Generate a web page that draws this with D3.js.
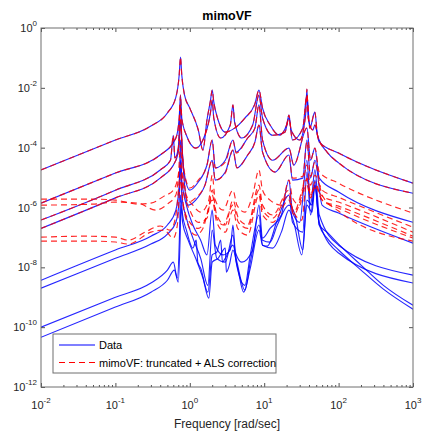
<!DOCTYPE html>
<html>
<head>
<meta charset="utf-8">
<script src="https://cdn.jsdelivr.net/npm/d3@7"></script>
<style>
  body { margin: 0; background: #fff; }
  text { font-family: "Liberation Sans", Arial, sans-serif; fill: #262626; }
</style>
</head>
<body>
<script>
// axis ticks
const freqTicks = [1e-2, 1e-1, 1e0, 1e1, 1e2, 1e3];
const magTicks = [1e-12, 1e-10, 1e-8, 1e-6, 1e-4, 1e-2, 1e0];

// measured responses, [frequency rad/s, magnitude]
const data1 = [[0.01,1.8e-5],[0.1,1.8e-4],[0.3,5.3e-4],[0.5,1.44e-3],[0.65,4.9e-3],[0.72,2.7e-2],[0.75,0.107],[0.78,2.7e-2],[0.85,5.7e-3],[1.0,2.1e-3],[1.3,3.9e-4],[1.5,8.3e-5],[1.7,8.4e-4],[1.9,3.9e-3],[2.0,8.4e-3],[2.1,3.4e-3],[2.4,8.4e-4],[3.0,3.3e-4],[4.0,4.5e-4],[5.5,9.8e-4],[7.5,2.9e-3],[8.5,8.4e-3],[9.5,2.1e-3],[12,5.7e-4],[16,2.6e-4],[20,5.7e-4],[21.5,1.23e-3],[23,3.9e-4],[30,1.8e-4],[36,1.23e-3],[37.5,9.1e-3],[39,9.8e-4],[45,3.9e-4],[48,5.7e-4],[55,1.54e-4],[100,6.6e-5],[1000,6.5e-6]];
const data2 = [[0.01,1.4e-6],[0.1,1.42e-5],[0.4,5.7e-5],[0.65,2.1e-4],[0.72,9.8e-4],[0.75,5.7e-3],[0.78,9.8e-4],[0.9,2.6e-4],[1.2,9.7e-5],[1.5,1.8e-4],[1.9,1.55e-3],[2.0,3.9e-3],[2.1,9.8e-4],[2.6,2.1e-4],[3.5,5.7e-4],[3.8,2.7e-3],[4.0,7.2e-4],[5,2.1e-4],[7,5.7e-4],[8.5,5.7e-3],[9.5,9.8e-4],[13,2.6e-4],[19,3.3e-4],[21.5,9.8e-4],[24,1.8e-4],[33,4.5e-4],[37.5,5.7e-3],[41,4.5e-4],[48,1.55e-3],[52,2.6e-4],[70,7.1e-5],[100,3.1e-5],[1000,3.0e-6]];
const data3 = [[0.01,3.8e-7],[0.1,3.8e-6],[0.4,1.8e-5],[0.55,3.8e-5],[0.6,2.6e-4],[0.63,4.5e-5],[0.7,9.7e-5],[0.75,2.7e-3],[0.78,1.8e-4],[0.85,1.21e-5],[1.0,3.8e-6],[1.3,7.1e-6],[1.7,2.6e-5],[2.0,1.8e-4],[2.2,2.1e-5],[3,3.8e-5],[3.8,1.8e-4],[4.2,7.1e-5],[6,2.1e-4],[7.5,4.5e-4],[8.5,2.7e-3],[9.5,1.8e-4],[13,3.8e-5],[21.5,9.7e-5],[25,2.6e-5],[37.5,4.5e-4],[42,3.8e-5],[48,9.7e-5],[55,9.6e-6],[100,3.3e-6],[1000,3.2e-7]];
const data4 = [[0.01,2.0e-7],[0.1,2.1e-6],[0.4,9.6e-6],[0.65,3.8e-5],[0.72,1.22e-4],[0.75,8.4e-4],[0.79,8.3e-5],[0.85,5.6e-6],[0.95,1.2e-6],[1.2,1.77e-6],[1.6,5.6e-6],[2.0,3.8e-5],[2.2,8.2e-6],[3,1.53e-5],[3.8,8.3e-5],[4.3,2.1e-5],[6,5.7e-5],[7.5,1.54e-4],[8.5,5.7e-4],[9.5,7.1e-5],[14,1.53e-5],[21.5,5.7e-5],[24,8.2e-6],[33,9.6e-6],[37.5,1.8e-4],[42,9.6e-6],[48,3.8e-5],[60,1.2e-6],[100,6.5e-7],[1000,6.4e-8]];
const data5 = [[0.01,3.7e-9],[0.1,3.8e-8],[0.3,1.1e-7],[0.5,2.6e-7],[0.65,8.2e-7],[0.72,5.6e-6],[0.75,1.8e-4],[0.78,8.2e-6],[0.9,1.2e-6],[1.1,2.6e-7],[1.4,8.1e-8],[1.7,2.6e-8],[2.0,8.2e-7],[2.2,5.5e-8],[2.8,2.6e-8],[3.5,3.8e-8],[3.8,2.6e-7],[4.1,3.2e-8],[5,1.49e-8],[7,3.8e-8],[8.5,1.2e-6],[9.5,9.5e-8],[12,2.0e-7],[17,5.6e-7],[21.5,8.2e-6],[24,7.0e-7],[30,3.2e-7],[37.5,3.8e-5],[42,1.2e-6],[48,1.8e-5],[55,5.6e-7],[100,5.5e-8],[1000,5.5e-9]];
const data6 = [[0.01,2.0e-9],[0.1,2.0e-8],[0.3,6.0e-8],[0.5,1.29e-7],[0.65,3.2e-7],[0.72,1.77e-6],[0.75,3.8e-5],[0.78,2.6e-6],[0.9,4.4e-7],[1.1,9.5e-8],[1.4,2.0e-8],[1.75,2.5e-9],[2.0,1.75e-7],[2.3,2.0e-8],[3,1.49e-8],[3.8,1.19e-7],[4.2,1.49e-8],[5.5,2.5e-9],[6.5,2.6e-8],[8.5,5.6e-7],[9.5,5.5e-8],[11,5.1e-8],[15,3.8e-7],[21.5,2.6e-6],[24,3.2e-7],[33,1.5e-7],[37.5,1.53e-5],[42,5.6e-7],[48,5.6e-6],[55,3.2e-7],[100,3.0e-8],[1000,3.0e-9]];
const data7 = [[0.01,1.0e-10],[0.1,1.0e-9],[0.3,3.0e-9],[0.5,8.1e-9],[0.6,1.49e-8],[0.68,4.4e-9],[0.73,1.75e-7],[0.75,2.6e-6],[0.8,5.6e-7],[0.9,1.75e-7],[1.1,4.4e-8],[1.22,8.1e-8],[1.28,1.49e-8],[1.4,9.4e-9],[1.75,1.48e-9],[2.0,2.6e-8],[2.3,3.2e-8],[2.6,8.1e-8],[2.75,1.49e-8],[3,2.0e-8],[3.8,5.5e-8],[4.3,1.49e-8],[5.5,1.73e-9],[6.5,1.49e-8],[8.5,2.6e-7],[9.5,8.1e-8],[12,7.0e-8],[15,2.6e-7],[21.5,1.2e-6],[26,5.6e-7],[33,3.8e-8],[37.5,1.77e-6],[44,1.2e-6],[48,8.2e-6],[55,2.6e-7],[70,1.5e-7],[100,6.0e-8],[200,1.19e-8],[400,2.5e-9],[1000,5.4e-10]];
const data8 = [[0.01,4.6e-11],[0.1,4.7e-10],[0.3,1.48e-9],[0.5,3.7e-9],[0.62,8.1e-9],[0.7,3.2e-9],[0.74,8.1e-8],[0.76,1.2e-6],[0.8,3.2e-7],[0.95,8.1e-8],[1.2,2.0e-8],[1.5,4.4e-9],[1.8,9.3e-10],[2.0,1.49e-8],[2.4,2.0e-8],[3.0,4.4e-8],[3.1,6.9e-9],[3.4,1.19e-8],[3.8,3.8e-8],[4.4,9.4e-9],[5.3,1.48e-9],[6.5,9.4e-9],[8.5,1.75e-7],[9.5,5.5e-8],[13,4.4e-8],[17,1.5e-7],[21.5,8.2e-7],[25,3.2e-7],[32,2.6e-8],[37.5,1.2e-6],[44,7.0e-7],[48,5.6e-6],[55,2.6e-7],[70,9.5e-8],[100,3.8e-8],[200,8.1e-9],[400,1.87e-9],[1000,4.0e-10]];

// mimoVF model responses, [frequency rad/s, magnitude]
const fit1 = data1;
const fit2 = data2;
const fit3 = [[0.01,3.8e-7],[0.1,3.8e-6],[0.4,1.8e-5],[0.55,3.8e-5],[0.6,2.6e-4],[0.63,4.5e-5],[0.7,9.7e-5],[0.75,2.7e-3],[0.78,1.8e-4],[0.85,1.4e-5],[1.0,4.5e-6],[1.3,8.2e-6],[1.7,2.6e-5],[2.0,1.8e-4],[2.2,2.1e-5],[3,3.3e-5],[3.8,1.8e-4],[4.2,6.6e-5],[6,2.1e-4],[7.5,4.5e-4],[8.5,2.7e-3],[9.5,1.8e-4],[13,3.8e-5],[21.5,9.7e-5],[25,2.6e-5],[37.5,4.5e-4],[42,3.8e-5],[48,9.7e-5],[55,1.53e-5],[100,6.5e-6],[1000,6.5e-7]];
const fit4 = [[0.01,2.0e-7],[0.1,2.1e-6],[0.4,9.6e-6],[0.65,3.8e-5],[0.72,1.22e-4],[0.75,8.4e-4],[0.79,8.3e-5],[0.85,6.6e-6],[0.95,1.52e-6],[1.2,2.1e-6],[1.6,5.6e-6],[2.0,3.8e-5],[2.2,8.2e-6],[3,1.42e-5],[3.8,8.3e-5],[4.3,2.1e-5],[6,5.7e-5],[7.5,1.54e-4],[8.5,5.7e-4],[9.5,7.1e-5],[14,1.53e-5],[21.5,5.7e-5],[24,9.6e-6],[33,1.1e-5],[37.5,1.54e-4],[42,1.1e-5],[48,3.3e-5],[60,2.6e-6],[100,7.6e-7],[1000,7.5e-8]];
const fit5 = [[0.01,1.9e-6],[0.05,1.9e-6],[0.1,1.77e-6],[0.2,1.3e-6],[0.3,1.4e-6],[0.45,2.4e-6],[0.6,3.8e-6],[0.7,1.21e-5],[0.75,1.22e-4],[0.8,9.6e-6],[0.9,2.6e-6],[1.1,1.2e-6],[1.4,7.0e-7],[1.8,1.77e-6],[2.0,1.21e-5],[2.2,1.77e-6],[2.8,8.2e-7],[3.8,3.8e-6],[4.3,1.2e-6],[5.5,7.0e-7],[7,2.6e-6],[8.5,1.8e-5],[9.5,3.8e-6],[12,1.77e-6],[17,1.2e-6],[21.5,8.2e-6],[24,2.1e-6],[30,1.2e-6],[37.5,2.6e-5],[42,5.6e-6],[48,1.21e-5],[60,3.8e-6],[100,2.2e-6],[1000,2.2e-7]];
const fit6 = [[0.01,1.2e-6],[0.05,1.3e-6],[0.1,1.52e-6],[0.2,1.4e-6],[0.35,8.2e-7],[0.5,1.3e-6],[0.65,2.6e-6],[0.75,2.6e-5],[0.82,3.8e-6],[1.0,8.2e-7],[1.3,3.2e-7],[1.7,4.4e-7],[2.0,3.8e-6],[2.3,5.6e-7],[3,2.6e-7],[3.8,1.77e-6],[4.5,4.4e-7],[6,2.6e-7],[8.5,5.6e-6],[9.5,1.2e-6],[13,5.6e-7],[21.5,3.8e-6],[24,8.2e-7],[32,3.8e-7],[37.5,9.6e-6],[43,2.6e-6],[48,7.1e-6],[60,1.77e-6],[100,9.5e-7],[1000,9.5e-8]];
const fit7 = [[0.01,1.02e-7],[0.04,1.1e-7],[0.1,1.02e-7],[0.15,8.1e-8],[0.25,1.5e-7],[0.4,2.4e-7],[0.55,1.75e-7],[0.65,5.6e-7],[0.75,1.21e-5],[0.8,1.77e-6],[0.95,2.6e-7],[1.2,1.19e-7],[1.5,2.0e-7],[2.0,1.77e-6],[2.3,3.2e-7],[3,1.5e-7],[3.8,8.2e-7],[4.4,2.0e-7],[6,1.19e-7],[8.5,2.6e-6],[9.5,5.6e-7],[13,3.2e-7],[21.5,1.77e-6],[25,5.6e-7],[37.5,5.6e-6],[42,2.1e-6],[48,4.5e-6],[60,2.4e-6],[100,1.52e-6],[1000,1.5e-7]];
const fit8 = [[0.01,7.5e-8],[0.05,7.5e-8],[0.1,7.0e-8],[0.15,6.0e-8],[0.3,1.5e-7],[0.45,1.75e-7],[0.6,9.5e-8],[0.68,2.6e-7],[0.75,8.2e-6],[0.82,1.2e-6],[1.0,3.2e-7],[1.3,2.0e-7],[1.7,5.6e-7],[2.0,2.6e-6],[2.3,4.4e-7],[2.8,2.6e-7],[3.8,1.2e-6],[4.5,3.2e-7],[6,2.0e-7],[8.5,3.8e-6],[9.5,8.2e-7],[13,4.4e-7],[21.5,2.6e-6],[25,7.0e-7],[37.5,8.2e-6],[42,2.6e-6],[48,5.6e-6],[60,1.77e-6],[100,1.11e-6],[1000,1.1e-7]];

const dataSeries = [data1, data2, data3, data4, data5, data6, data7, data8];
const fitSeries = [fit1, fit2, fit3, fit4, fit5, fit6, fit7, fit8];

const width = 423;
const height = 435;
const plot = { left: 41, right: 413, top: 28, bottom: 387 };

const svg = d3.select('body')
    .append('svg')
    .attr('width', width)
    .attr('height', height);

const xScale = d3.scaleLog()
    .domain([1e-2, 1e3])
    .range([plot.left, plot.right]);

const yScale = d3.scaleLog()
    .domain([1e-12, 1])
    .range([plot.bottom, plot.top]);

svg.append('clipPath').attr('id', 'clip')
    .append('rect')
    .attr('x', plot.left).attr('y', plot.top)
    .attr('width', plot.right - plot.left).attr('height', plot.bottom - plot.top);

const line = d3.line()
    .x(d => xScale(d[0]))
    .y(d => yScale(d[1]))
    .curve(d3.curveMonotoneX);

const curves = svg.append('g').attr('clip-path', 'url(#clip)');

curves.selectAll('path.data')
    .data(dataSeries)
    .enter()
    .append('path')
    .attr('class', 'data')
    .attr('d', line)
    .attr('fill', 'none')
    .attr('stroke', '#0000ff')
    .attr('stroke-opacity', 0.85)
    .attr('stroke-width', 1.15);

curves.selectAll('path.fit')
    .data(fitSeries)
    .enter()
    .append('path')
    .attr('class', 'fit')
    .attr('d', line)
    .attr('fill', 'none')
    .attr('stroke', '#ff0000')
    .attr('stroke-opacity', 0.85)
    .attr('stroke-width', 1.15)
    .attr('stroke-dasharray', '6,4');

// ticks inside the box, MATLAB style
const xMinor = xScale.ticks().filter(t => !freqTicks.includes(t));
const tickColor = '#262626';

function drawTicks(axis, vals, size, transform) {
    svg.append('g')
        .attr('transform', transform)
        .call(axis.tickValues(vals).tickSize(size).tickFormat(''))
        .call(g => g.select('.domain').remove())
        .call(g => g.selectAll('line').attr('stroke', tickColor).attr('stroke-width', 0.8));
}

drawTicks(d3.axisBottom(xScale), freqTicks, -4, `translate(0,${plot.bottom})`);
drawTicks(d3.axisBottom(xScale), xMinor, -2, `translate(0,${plot.bottom})`);
drawTicks(d3.axisTop(xScale), freqTicks, -4, `translate(0,${plot.top})`);
drawTicks(d3.axisTop(xScale), xMinor, -2, `translate(0,${plot.top})`);
drawTicks(d3.axisLeft(yScale), magTicks, -4, `translate(${plot.left},0)`);
drawTicks(d3.axisRight(yScale), magTicks, -4, `translate(${plot.right},0)`);

svg.append('rect')
    .attr('x', plot.left).attr('y', plot.top)
    .attr('width', plot.right - plot.left).attr('height', plot.bottom - plot.top)
    .attr('fill', 'none')
    .attr('stroke', '#6e6e6e')
    .attr('stroke-width', 1);

// tick labels as 10^n
const xLabels = svg.selectAll('text.xl')
    .data(freqTicks)
    .enter()
    .append('text')
    .attr('class', 'xl')
    .attr('x', d => xScale(d))
    .attr('y', 409)
    .attr('text-anchor', 'middle')
    .style('font-size', '11px');
xLabels.append('tspan').text('10');
xLabels.append('tspan')
    .attr('dy', -6)
    .style('font-size', '8px')
    .text(d => Math.round(Math.log10(d)));

const yLabels = svg.selectAll('text.yl')
    .data(magTicks)
    .enter()
    .append('text')
    .attr('class', 'yl')
    .attr('x', 37)
    .attr('y', d => yScale(d) + 4)
    .attr('text-anchor', 'end')
    .style('font-size', '11px');
yLabels.append('tspan').text('10');
yLabels.append('tspan')
    .attr('dy', -6)
    .style('font-size', '8px')
    .text(d => Math.round(Math.log10(d)));

svg.append('text')
    .attr('x', (plot.left + plot.right) / 2)
    .attr('y', 20)
    .attr('text-anchor', 'middle')
    .style('font-size', '12.5px')
    .style('font-weight', 'bold')
    .style('fill', '#000')
    .text('mimoVF');

svg.append('text')
    .attr('x', (plot.left + plot.right) / 2)
    .attr('y', 428)
    .attr('text-anchor', 'middle')
    .style('font-size', '12px')
    .text('Frequency [rad/sec]');

// legend
const legend = svg.append('g');
legend.append('rect')
    .attr('x', 53).attr('y', 334)
    .attr('width', 223).attr('height', 39)
    .attr('fill', '#fff')
    .attr('stroke', '#6e6e6e')
    .attr('stroke-width', 1);

const legendItems = [
    { label: 'Data', color: '#0000ff', dash: null },
    { label: 'mimoVF: truncated + ALS correction', color: '#ff0000', dash: '6,4' }
];

legendItems.forEach((item, i) => {
    const yy = 345 + i * 17.5;
    legend.append('line')
        .attr('x1', 59).attr('x2', 95)
        .attr('y1', yy).attr('y2', yy)
        .attr('stroke', item.color)
        .attr('stroke-width', 1.15)
        .attr('stroke-dasharray', item.dash);
    legend.append('text')
        .attr('x', 99)
        .attr('y', yy + 4)
        .style('font-size', '11px')
        .style('fill', '#000')
        .text(item.label);
});
</script>
</body>
</html>
